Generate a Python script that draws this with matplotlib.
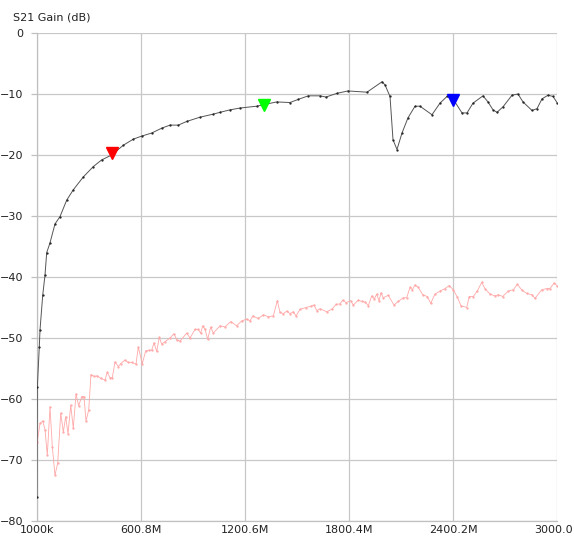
import matplotlib
matplotlib.use("Agg")
import matplotlib.pyplot as plt
import matplotlib.transforms as mtransforms

# ---- data (frequency in MHz, gain in dB) ----
s21_freq = [1, 3, 14.3, 18.3, 33.9, 47.1, 57, 76, 104.8, 133.6, 172.3, 210.4, 268, 325.7,
            374.1, 431.8, 498.7, 556.4, 604.8, 662.5, 720.2, 768, 815.9, 864.3, 941,
            1017.8, 1056.4, 1114, 1171.8, 1268, 1383.4, 1460, 1506, 1565.7, 1633,
            1667.7, 1729.5, 1794.6, 1904.2, 1990.7, 2008, 2036.9, 2054.2, 2077.2, 2106,
            2140.7, 2181, 2209.9, 2279, 2325, 2365.6, 2400.2, 2452, 2481, 2515.5, 2573.2,
            2602, 2631, 2654, 2688.6, 2740.5, 2775, 2803.9, 2855.8, 2884.7, 2913.5,
            2948.1, 2977, 3000]
s21_gain = [-76, -58, -51.4, -48.7, -43, -39.7, -36, -34.4, -31.3, -30.1, -27.4, -25.7,
            -23.6, -21.9, -20.8, -20, -18.4, -17.4, -16.9, -16.4, -15.6, -15.1, -15.1,
            -14.5, -13.8, -13.3, -13, -12.6, -12.3, -12, -11.3, -11.4, -10.9, -10.3,
            -10.3, -10.5, -9.9, -9.5, -9.7, -8.0, -8.5, -10.4, -17.5, -19.1, -16.4,
            -13.9, -12, -12, -13.4, -11.5, -10.4, -10.8, -13.1, -13.1, -11.5, -10.3,
            -11.3, -12.6, -13, -12.1, -10.2, -10, -11.3, -12.7, -12.4, -10.8, -10.2,
            -10.4, -11.4]

iso_freq = [2.7, 18.3, 33.9, 47.1, 60.4, 76, 89.2, 104.8, 120.4, 137.7, 152.7, 166.5,
            179.8, 195.4, 210.4, 225.9, 241.5, 258.8, 272.1, 283.6, 299.2, 312.4, 331.5,
            348.8, 368.4, 393.2, 406.4, 422, 435.3, 450.8, 469.9, 483.7, 508.5, 527.5,
            547.2, 571.9, 585.2, 608.3, 627.9, 648.7, 662.5, 675.8, 691.3, 706.3, 720.2,
            739.2, 768, 791.1, 806.7, 825.7, 864.3, 883.4, 912.2, 931.3, 945.1, 956.6,
            969.9, 985.5, 1002.8, 1017.8, 1056.4, 1085.3, 1118.1, 1152.7, 1181.6,
            1210.4, 1229.4, 1245, 1277.3, 1306.2, 1335, 1363.8, 1386.9, 1402.5, 1421.5,
            1441.1, 1460.1, 1479.2, 1494.7, 1517.8, 1552.4, 1579.5, 1598.5, 1614.1,
            1633.1, 1671.8, 1700.6, 1725.4, 1748.5, 1764.1, 1783.1, 1810.2, 1825.2,
            1854, 1873.6, 1892.7, 1912, 1931.3, 1946.3, 1960.1, 1973.4, 1985, 1998.2,
            2027, 2059.9, 2084.7, 2113.5, 2133.2, 2152.2, 2165.5, 2181, 2200, 2225.4,
            2251.9, 2271.5, 2296.4, 2325.2, 2354, 2378.8, 2401.9, 2425, 2446.3, 2479.2,
            2494.2, 2517.3, 2540.3, 2565.7, 2584.8, 2613.6, 2642.4, 2661.5, 2686.8,
            2719.1, 2748, 2771, 2796.4, 2825.2, 2854.1, 2873.1, 2911.8, 2940.6, 2959.7,
            2982.7, 3000]
iso_gain = [-67, -64, -63.6, -65, -69.2, -61.3, -67.8, -72.5, -70.5, -62.3, -65.4, -62.9,
            -65.7, -61, -64.8, -59.2, -61.1, -59.6, -59.6, -63.6, -61.8, -56, -56.3,
            -56.2, -56.6, -56.9, -55.6, -56.5, -56.5, -53.9, -54.7, -54.2, -53.6, -54,
            -54, -54.3, -51.5, -54.2, -52.1, -52, -52, -50.8, -52.2, -49.9, -51, -50.6,
            -50, -49.3, -50.3, -50.5, -49.2, -50, -48.6, -48.6, -49.2, -48, -48.6, -50.2,
            -48.2, -49.2, -48, -48.2, -47.3, -48, -47.2, -46.9, -47.2, -46.4, -46.8,
            -46.2, -46.5, -46.4, -43.9, -45.8, -46, -45.6, -46, -45.7, -46.4, -45.3, -45,
            -44.8, -44.6, -45.5, -45.2, -45.7, -45.3, -44.5, -44.4, -43.8, -44.2, -43.9,
            -44.6, -43.8, -44, -44.1, -44.7, -43.1, -43.6, -42.8, -43.9, -42.6, -43.4,
            -43, -44.6, -44, -43.4, -43.4, -41.7, -42.1, -41.3, -41.7, -42.9, -43.2,
            -44.3, -42.8, -42.3, -41.9, -41.4, -42.1, -43.3, -44.7, -45, -43.2, -43.2,
            -42.3, -40.9, -41.9, -42.8, -43.1, -42.9, -43.2, -42.3, -42.1, -41.2, -42.1,
            -42.7, -42.9, -43.5, -42.1, -41.9, -41.9, -41, -41.4]

marker_freq = [433.5, 1313, 2402]
marker_gain = [-19.7, -11.8, -11.0]
marker_colors = ["#ff0000", "#00ff00", "#0000ff"]

x_ticks = [1, 600.8, 1200.6, 1800.4, 2400.2, 3000.0]
x_tick_labels = ["1000k", "600.8M", "1200.6M", "1800.4M", "2400.2M", "3000.0"]
y_ticks = [0, -10, -20, -30, -40, -50, -60, -70, -80]

# ---- figure ----
fig = plt.figure(figsize=(5.74, 5.40), dpi=100)
ax = fig.add_axes([37 / 574, 19 / 540, 520 / 574, 488 / 540])

ax.plot(iso_freq, iso_gain, color="#ffa8a8", linewidth=0.6, marker=".",
        markersize=1.3, zorder=3)
ax.plot(s21_freq, s21_gain, color="#555555", linewidth=0.7, marker=".",
        markersize=1.3, markerfacecolor="#222222", markeredgecolor="#222222", zorder=4)
for f, g, c in zip(marker_freq, marker_gain, marker_colors):
    ax.plot([f], [g], marker="v", markersize=9, color=c, linestyle="none", zorder=5)

ax.set_xlim(1, 3000)
ax.set_ylim(-80, 0)
ax.set_xticks(x_ticks)
ax.set_xticklabels(x_tick_labels)
ax.set_yticks(y_ticks)
ax.grid(True, color="#c8c8c8", linewidth=0.9)
ax.set_axisbelow(True)

for s in ["top", "right"]:
    ax.spines[s].set_visible(False)
for s in ["left", "bottom"]:
    ax.spines[s].set_color("#c0c0c0")
    ax.spines[s].set_linewidth(0.9)

ax.tick_params(axis="y", length=4, width=0.9, color="#c0c0c0", pad=6,
               labelsize=8, labelcolor="#222222")
ax.tick_params(axis="x", length=0, pad=3, labelsize=8, labelcolor="#222222")

# keep the last x label inside the figure (right edge near the image border)
last = ax.get_xticklabels()[-1]
last.set_horizontalalignment("right")
last.set_transform(last.get_transform() +
                   mtransforms.ScaledTranslation(16 / 100, 0, fig.dpi_scale_trans))

fig.text(13 / 574, 1 - 17 / 540, "S21 Gain (dB)", fontsize=8, color="#222222",
         ha="left", va="center")

fig.savefig("out.png", dpi=100)
